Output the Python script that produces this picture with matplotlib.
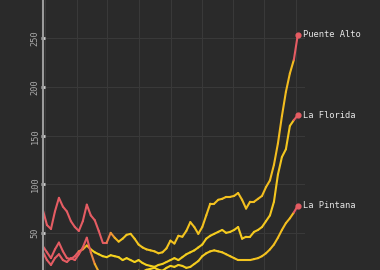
import numpy as np
import pandas as pd
import matplotlib
matplotlib.use('Agg')
import matplotlib.pyplot as plt
import matplotlib.dates as mdates
from matplotlib.collections import LineCollection
from matplotlib.colors import LinearSegmentedColormap

# fechas de reporte (cada ~4 dias)
fechas = pd.date_range('2021-04-29', '2022-01-03', periods=65)

comunas = ['Puente Alto', 'La Florida', 'La Pintana']

puente_alto = [73, 58, 54, 72, 86, 77, 72, 62, 56, 52, 62, 79, 68, 63, 52, 40, 40, 50, 45, 41,
               44, 48, 49, 44, 38, 35, 33, 32, 31, 29, 30, 34, 42, 39, 47, 46, 52, 61, 56, 49,
               56, 68, 80, 80, 84, 85, 87, 87, 88, 91, 84, 75, 82, 82, 85, 88, 97, 104, 120, 142,
               170, 195, 214, 228, 254]
la_florida = [36, 30, 24, 33, 40, 31, 24, 23, 26, 31, 33, 37, 33, 30, 28, 26, 25, 27, 26, 25,
              22, 24, 22, 20, 22, 19, 17, 16, 15, 17, 18, 20, 22, 24, 22, 25, 28, 30, 32, 35,
              38, 44, 47, 49, 51, 53, 50, 51, 53, 56, 44, 46, 46, 51, 53, 56, 62, 68, 82, 110,
              128, 136, 160, 166, 171]
la_pintana = [30, 22, 17, 24, 28, 22, 20, 24, 22, 28, 35, 45, 30, 18, 10, 7, 6, 7, 6, 8,
              9, 8, 10, 9, 11, 10, 12, 13, 14, 12, 11, 14, 16, 15, 17, 16, 14, 15, 18, 21,
              26, 29, 31, 32, 31, 30, 28, 26, 24, 22, 22, 22, 22, 23, 24, 26, 29, 33, 38, 45,
              53, 60, 65, 71, 78]

yticks = [50, 100, 150, 200, 250]

series = [puente_alto, la_florida, la_pintana]

fondo = '#2a2a2a'
rojo = '#e55c63'
cmap = LinearSegmentedColormap.from_list('amarillo_rojo', ['#f6e41e', '#f2b21f', rojo])

# color de cada tramo: rojo al inicio, amarillo/naranjo al medio, rojo el ultimo tramo
def colores_tramos(n, hasta_rojo, c0, c1):
    c = np.linspace(c0, c1, n)
    for k in range(3):
        if hasta_rojo + k < n:
            c[hasta_rojo + k] = c[hasta_rojo + k] + (1.0 - c[hasta_rojo + k]) * (3 - k) / 4
    c[:hasta_rojo] = 1.0
    c[-1] = 1.0
    return cmap(c)

params = [(16, 0.25, 0.4), (9, 0.12, 0.3), (12, 0.0, 0.4)]

fig = plt.figure(figsize=(3.8, 2.7), dpi=100, facecolor=fondo)
ax = fig.add_axes([43 / 380, 0, 262 / 380, 1], facecolor=fondo)

x = mdates.date2num(fechas)
for nombre, valores, (hr, c0, c1) in zip(comunas, series, params):
    pts = np.column_stack([x, valores])
    tramos = np.stack([pts[:-1], pts[1:]], axis=1)
    lc = LineCollection(tramos, colors=colores_tramos(len(tramos), hr, c0, c1),
                        linewidths=1.5, capstyle='round', joinstyle='round', zorder=2)
    ax.add_collection(lc)
    ax.scatter([x[-1]], [valores[-1]], s=12, color=rojo, zorder=3, clip_on=False)
    ax.annotate(nombre, (x[-1], valores[-1]), xytext=(3.5, 0), textcoords='offset points',
                va='center', ha='left', color='#e6e6e6', fontsize=6.3,
                family='DejaVu Sans Mono', annotation_clip=False)

ax.set_xlim(x[0], mdates.date2num(pd.Timestamp('2022-01-10')))
ax.set_ylim(11.8, 289.5)

ax.xaxis.set_major_locator(mdates.MonthLocator())
ax.set_yticks(yticks)
ax.set_yticklabels([str(v) for v in yticks], rotation=90, va='center',
                   family='DejaVu Sans Mono', fontsize=6.2, color='#aaaaaa')
ax.tick_params(axis='x', length=0, labelbottom=False)
ax.tick_params(axis='y', direction='inout', length=2.5, width=2, color='#d0d0d0', pad=1)
ax.grid(True, color='#393939', linewidth=0.8)
ax.set_axisbelow(True)

for lado in ['top', 'right', 'bottom']:
    ax.spines[lado].set_visible(False)
ax.spines['left'].set_color('#9a9a9a')
ax.spines['left'].set_linewidth(1.5)

fig.savefig('out.png', dpi=100, facecolor=fondo)
